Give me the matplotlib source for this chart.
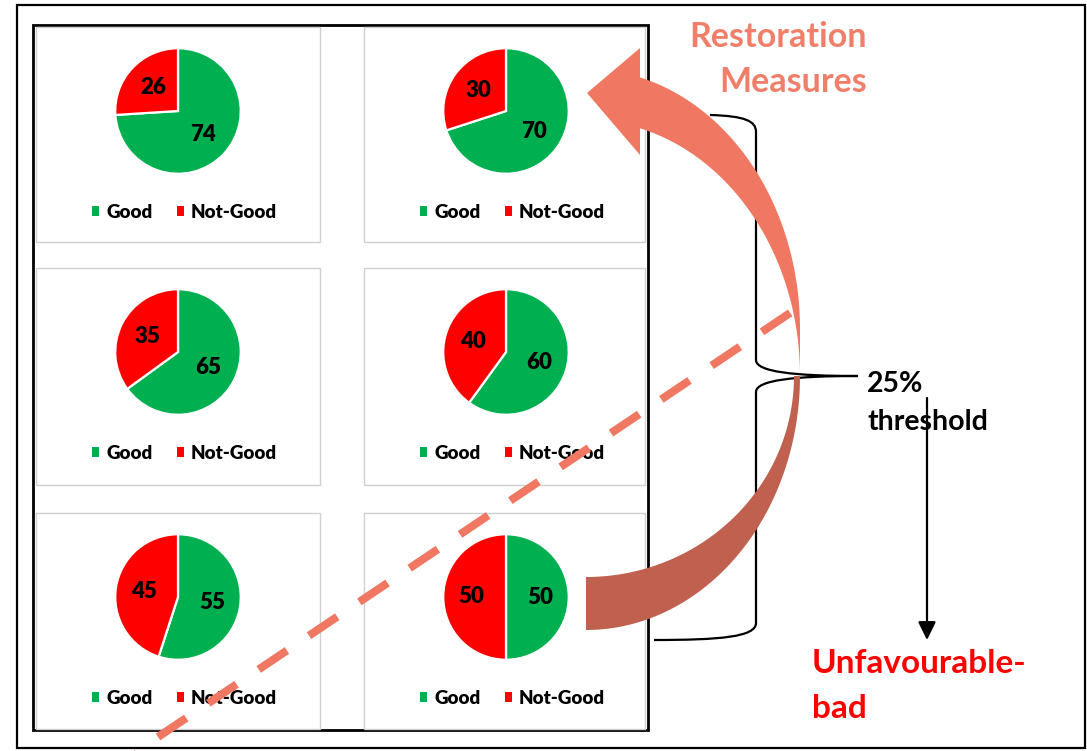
import numpy as np
import matplotlib
matplotlib.use("Agg")
import matplotlib.pyplot as plt
from matplotlib.patches import Rectangle, Polygon, Patch, PathPatch, FancyArrowPatch
from matplotlib.collections import LineCollection
from matplotlib.path import Path

# ---------------- data ----------------
categories = ["Good", "Not-Good"]
good_values = [74, 70, 65, 60, 55, 50]
not_good_values = [26, 30, 35, 40, 45, 50]
slice_colors = ["#00B050", "#FF0000"]

title_top = ["Restoration", "Measures"]
threshold_text = ["25%", "threshold"]
bad_text = ["Unfavourable-", "bad"]

# ---------------- figure ----------------
W, H = 1087, 751
plt.rcParams["font.family"] = ["Lato", "DejaVu Sans"]
fig = plt.figure(figsize=(W / 100, H / 100), dpi=100)
fig.patch.set_facecolor("white")

bg = fig.add_axes([0, 0, 1, 1])
bg.set_xlim(0, W)
bg.set_ylim(H, 0)
bg.axis("off")

# outer and inner frames
bg.add_patch(Rectangle((17, 5), 1085 - 17, 748 - 5, fill=False, lw=1.6, ec="black", zorder=1))
bg.add_patch(Rectangle((33, 25), 648 - 33, 730 - 25, fill=False, lw=2.0, ec="black", zorder=1))

# panel grid
col_x = [(36, 320), (364, 645)]
row_y = [(27, 242), (268, 485), (513, 729)]
R = 64

for i, (g, ng) in enumerate(zip(good_values, not_good_values)):
    r, c = divmod(i, 2)
    x0, x1 = col_x[c]
    y0, y1 = row_y[r]
    bg.add_patch(Rectangle((x0, y0), x1 - x0, y1 - y0, fc="white", ec="#D0D0D0", lw=1.0, zorder=2))
    cx = x0 + 142
    cy = y0 + 84
    ax = fig.add_axes([(cx - R) / W, 1 - (cy + R) / H, 2 * R / W, 2 * R / H])
    ax.pie([g, ng], colors=slice_colors, startangle=90, counterclock=False,
           wedgeprops=dict(edgecolor="white", linewidth=1.6),
           autopct=lambda p: f"{p:.0f}", pctdistance=0.55,
           textprops=dict(fontsize=16, fontweight=800, color="black"))
    ax.set_xlim(-1.02, 1.02)
    ax.set_ylim(-1.02, 1.02)
    ax.set_aspect("equal")
    ax.axis("off")
    handles = [Patch(facecolor=col, edgecolor="none") for col in slice_colors]
    ax.legend(handles, categories, loc="center", bbox_to_anchor=(0.55, -0.29), ncol=2,
              frameon=False, handlelength=0.4, handleheight=0.4, handletextpad=0.35,
              columnspacing=1.3, borderaxespad=0,
              prop=dict(weight=800, size=13.5, family=["Lato", "DejaVu Sans"]))

# overlay axes for annotations (on top of pies)
ov = fig.add_axes([0, 0, 1, 1])
ov.set_xlim(0, W)
ov.set_ylim(H, 0)
ov.axis("off")
ov.patch.set_alpha(0)

salmon = "#F07862"
dark_salmon = "#C0614F"

# dashed diagonal line (dash / gap measured in pixels along the line)
p0 = np.array([107.7, 770.7])
p1 = np.array([796.0, 309.0])
dash_len, gap_len = 34.0, 26.6
vec = p1 - p0
total = np.hypot(*vec)
unit = vec / total
starts = np.arange(0, total, dash_len + gap_len)
segs = [[p0 + unit * s, p0 + unit * min(s + dash_len, total)] for s in starts]
ov.add_collection(LineCollection(segs, colors=salmon, linewidths=5.8, capstyle="butt", zorder=3))

# curly brace
verts = [(710, 115), (745, 116), (756, 121), (756, 132),
         (756, 360),
         (756, 372), (795, 376), (858, 376),
         (795, 376), (756, 380), (756, 392),
         (756, 623),
         (756, 637), (720, 640), (654, 640)]
codes = [Path.MOVETO, Path.CURVE4, Path.CURVE4, Path.CURVE4,
         Path.LINETO,
         Path.CURVE4, Path.CURVE4, Path.CURVE4,
         Path.CURVE4, Path.CURVE4, Path.CURVE4,
         Path.LINETO,
         Path.CURVE4, Path.CURVE4, Path.CURVE4]
ov.add_patch(PathPatch(Path(verts, codes), fill=False, lw=1.6, ec="black", zorder=4))

# curved arrow (back / dark part)
acx = 586
th = np.linspace(0, np.pi / 2, 120)
outer = np.column_stack([acx + 214 * np.cos(th), 376 + 254 * np.sin(th)])
inner = np.column_stack([acx + 208 * np.cos(th), 376 + 201 * np.sin(th)])[::-1]
ov.add_patch(Polygon(np.vstack([outer, inner]), closed=True, fc=dark_salmon, ec="none", zorder=5))

# curved arrow (front / light part with head)
th0 = -np.arccos(54 / 214)
tho = np.linspace(th0, 0, 120)
outer2 = np.column_stack([acx + 214 * np.cos(tho), 329 + 260 * np.sin(tho)])
thi = np.linspace(0, th0, 120)
inner2 = np.column_stack([acx + 214 * np.cos(thi), 376 + 256 * np.sin(thi)])
head = np.array([[640, 155], [587, 93], [640, 48]])
ov.add_patch(Polygon(np.vstack([outer2, [[800, 376]], inner2, head]), closed=True,
                     fc=salmon, ec="none", zorder=6))

# threshold arrow
ov.add_patch(FancyArrowPatch((927, 398), (927, 640), arrowstyle="-|>,head_length=0.55,head_width=0.27",
                             mutation_scale=20, lw=1.6, color="black", shrinkA=0, shrinkB=0, zorder=7))

# texts
tkw = dict(fontweight="bold", va="baseline", zorder=8)
ov.text(867, 47, title_top[0], ha="right", fontsize=24.5, color="#F07F6A", **tkw)
ov.text(867, 92, title_top[1], ha="right", fontsize=24.5, color="#F07F6A", **tkw)
ov.text(867, 392, threshold_text[0], ha="left", fontsize=20.5, color="black", **tkw)
ov.text(867, 430, threshold_text[1], ha="left", fontsize=20.5, color="black", **tkw)
ov.text(812, 673, bad_text[0], ha="left", fontsize=24, color="#FF0000", **tkw)
ov.text(812, 718, bad_text[1], ha="left", fontsize=24, color="#FF0000", **tkw)

fig.savefig("out.png", dpi=100)
